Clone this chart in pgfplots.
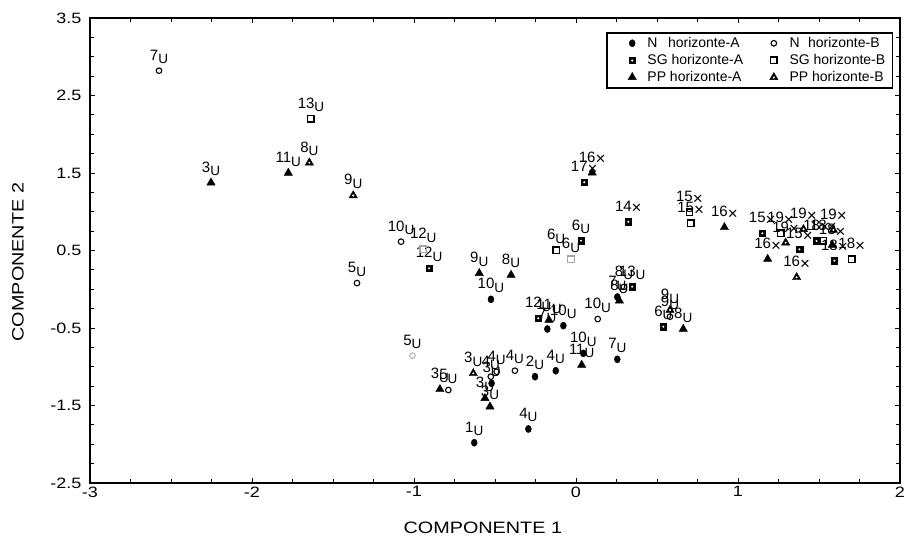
\documentclass[border=0pt]{standalone}
\usepackage{fontspec}
\setmainfont{Liberation Sans}
\newfontfamily\wfont{Liberation Sans}[FakeStretch=1.2]
\usepackage{pgfplots}
\usepackage{pgfplotstable}
\pgfplotsset{compat=1.18}
\newcommand{\Us}{{\fontsize{13.5}{15}\selectfont\raisebox{-3.5pt}{U}}}
\newcommand{\Xs}{{\fontsize{17}{18}\selectfont\raisebox{-2.5pt}{×}}}
\newcommand{\fs}{\fontsize{15}{17}\selectfont}

\pgfplotstableread{
x y lab
-0.525 -0.13 10\Us
0.255 -0.10 7\Us
-0.177 -0.513 7\Us
-0.078 -0.47 10\Us
0.045 -0.827 10\Us
0.255 -0.904 7\Us
-0.125 -1.051 4\Us
-0.253 -1.128 2\Us
-0.521 -1.214 3\Us
-0.294 -1.803 4\Us
-0.628 -1.98 1\Us
}\NA
\pgfplotstableread{
x y lab
-2.574 2.82 7\Us
-1.080 0.614 10\Us
-1.352 0.08 5\Us
0.296 0.03 8\Us
0.134 -0.384 10\Us
0.58 -0.354 9\Us
-0.49 -1.064 4\Us
-0.377 -1.051 4\Us
-0.788 -1.30 5\Us
-0.526 -1.128 4\Us
}\NB
\pgfplotstableread{
x y lab
-1.010 -0.857 5\Us
}\NBg
\pgfplotstableread{
x y lab
-0.907 0.27 12\Us
0.031 0.627 6\Us
0.323 0.872 14\Xs
0.347 0.033 13\Us
-0.233 -0.375 12\Us
0.539 -0.483 6\Us
0.051 1.38 17\Xs
1.150 0.722 15\Xs
1.379 0.515 15\Xs
1.485 0.623 18\Xs
1.595 0.369 18\Xs
}\SGA
\pgfplotstableread{
x y lab
-1.636 2.20 13\Us
-0.123 0.506 6\Us
0.70 0.993 15\Xs
0.708 0.851 15\Xs
1.263 0.722 19\Xs
1.527 0.623 18\Xs
1.702 0.386 18\Xs
}\SGB
\pgfplotstableread{
x y lab
-0.943 0.515 12\Us
-0.031 0.386 6\Us
}\SGBg
\pgfplotstableread{
x y lab
-2.253 1.375 3\Us
-1.776 1.50 11\Us
-0.597 0.206 9\Us
-0.401 0.184 8\Us
-0.167 -0.397 11\Us
0.268 -0.148 8\Us
0.662 -0.513 8\Us
0.035 -0.977 11\Us
-0.84 -1.291 3\Us
-0.562 -1.407 3\Us
-0.531 -1.515 3\Us
0.100 1.504 16\Xs
0.916 0.799 16\Xs
1.183 0.39 16\Xs
1.582 0.571 18\Xs
}\PPA
\pgfplotstableread{
x y lab
-1.646 1.633 8\Us
-1.375 1.21 9\Us
0.580 -0.268 9\Us
-0.634 -1.085 3\Us
1.294 0.601 19\Xs
1.404 0.774 19\Xs
1.589 0.765 19\Xs
1.362 0.154 16\Xs
}\PPB

\begin{document}
\begin{tikzpicture}
\begin{axis}[
  scale only axis, width=810pt, height=465pt,
  xmin=-3, xmax=2, ymin=-2.5, ymax=3.5,
  xtick={-3,-2,...,2}, ytick={-2.5,-1.5,...,3.5},
  minor x tick num=3, minor y tick num=3,
  tick align=inside, tick pos=both,
  major tick length=5pt, minor tick length=4pt,
  every tick/.style={black, line width=0.8pt},
  axis line style={line width=1.4pt},
  ticklabel style={font=\wfont\fontsize{15}{17}\selectfont},
  yticklabel style={xshift=-5pt, /pgf/number format/fixed, /pgf/number format/precision=1},
  /pgf/number format/assume math mode=true,
  xlabel={COMPONENTE 1}, ylabel={COMPONENTE 2},
  label style={font=\wfont\fontsize{16.5}{18}\selectfont},
  xlabel style={at={(axis description cs:0.485,-0.0968)}, anchor=center},
  ylabel style={at={(axis description cs:-0.0889,0.475)}, anchor=center},
  legend columns=2,
  legend image code/.code={\path (-20pt,0pt) (13pt,0pt); \draw[#1] plot coordinates {(0pt,0pt)};},
  legend style={at={(rel axis cs:1,1)}, anchor=north east, xshift=-7pt, yshift=-14pt,
    draw=black, line width=1.5pt, font=\fontsize{14}{16}\selectfont, cells={anchor=west},
    inner xsep=5pt, inner ysep=2pt,
    nodes={text height=10.5pt, text depth=2.5pt, inner ysep=2pt},
    /tikz/every even column/.append style={column sep=8pt}},
  lbl/.style={nodes near coords, point meta=explicit symbolic,
    every node near coord/.append style={font=\fs, anchor=base, yshift=10.5pt, inner sep=0pt, text=black}},
  dotleg/.style={legend image code/.code={\path (-20pt,0pt) (13pt,0pt);
    \draw[##1] plot coordinates {(0pt,0pt)};
    \fill[white] (0pt,-0.3pt) circle[radius=0.8pt];}},
]
% N horizonte-A
\addplot[only marks, mark=*, mark size=3pt, black, line width=0.4pt, mark options={yscale=1.2}, lbl] table[x=x,y=y,meta=lab] {\NA};
\addlegendentry{N\hspace{0.75em}horizonte-A}
% N horizonte-B
\addplot[only marks, mark=o, mark size=2.8pt, black, line width=1.1pt, lbl] table[x=x,y=y,meta=lab] {\NB};
\addlegendentry{N\hspace{0.6em}horizonte-B}
% SG horizonte-A
\addplot[only marks, mark=square*, mark size=3.3pt, black, line width=0.4pt, lbl, dotleg] table[x=x,y=y,meta=lab] {\SGA};
\addlegendentry{SG horizonte-A}
% SG horizonte-B
\addplot[only marks, mark=square, mark size=3.2pt, black, line width=1.4pt, lbl] table[x=x,y=y,meta=lab] {\SGB};
\addlegendentry{SG horizonte-B}
% PP horizonte-A
\addplot[only marks, mark=triangle*, mark size=4.8pt, black, line width=0.4pt, lbl] table[x=x,y=y,meta=lab] {\PPA};
\addlegendentry{PP horizonte-A}
% PP horizonte-B
\addplot[only marks, mark=triangle*, mark size=4.8pt, black, line width=0.4pt, lbl, dotleg] table[x=x,y=y,meta=lab] {\PPB};
\addlegendentry{PP horizonte-B}
% overlays
\addplot[forget plot, only marks, mark=*, mark size=0.8pt, white, draw=none] table[x=x,y=y] {\SGA};
\addplot[forget plot, only marks, mark=*, mark size=0.8pt, white, draw=none] table[x=x,y=y] {\PPB};
\addplot[forget plot, only marks, mark=o, mark size=2.8pt, black!30, line width=1pt, lbl] table[x=x,y=y,meta=lab] {\NBg};
\addplot[forget plot, only marks, mark=square, mark size=3.2pt, black!35, line width=1.3pt, lbl] table[x=x,y=y,meta=lab] {\SGBg};
\end{axis}
\pgfresetboundingbox
\path (-90pt,-59pt) rectangle (815pt,483pt);
\end{tikzpicture}
\end{document}
